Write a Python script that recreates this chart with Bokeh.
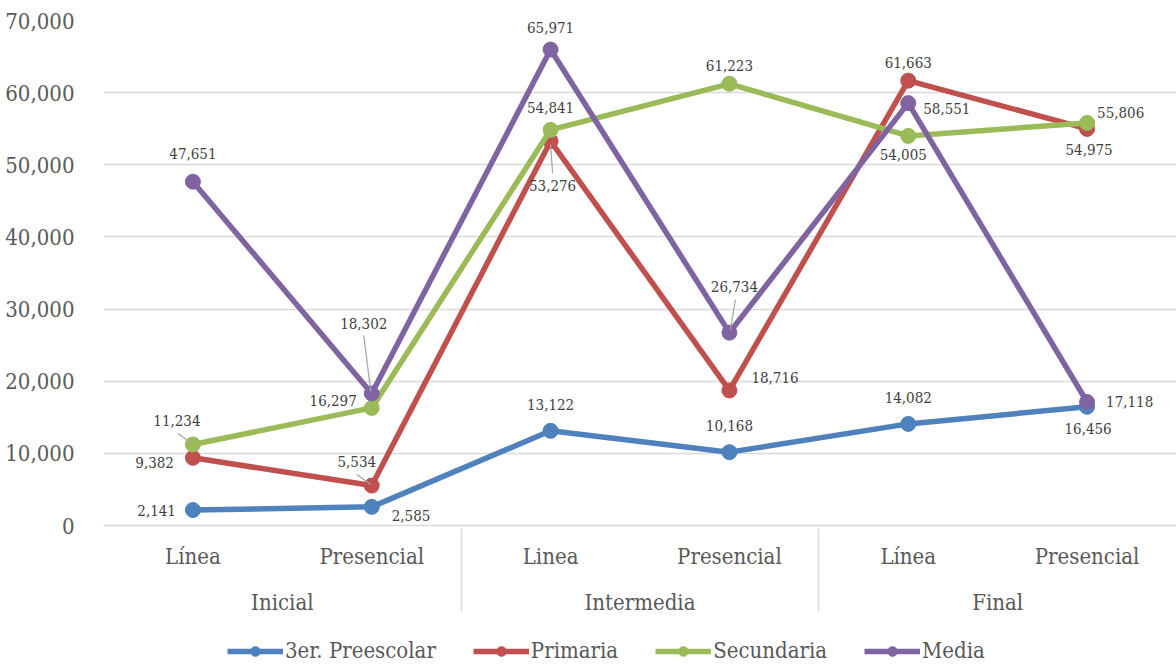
from bokeh.plotting import figure
from bokeh.layouts import column
from bokeh.models import (FactorRange, Range1d, ColumnDataSource, Legend, LegendItem,
                          NumeralTickFormatter, FixedTicker)
from bokeh.core.properties import value
from bokeh.embed import file_html
from bokeh.resources import INLINE

# ---------------- data ----------------
groups = ["Inicial", "Intermedia", "Final"]
modes = [["Línea", "Presencial"], ["Linea", "Presencial"], ["Línea", "Presencial"]]
series_names = ["3er. Preescolar", "Primaria", "Secundaria", "Media"]
preescolar = [2141, 2585, 13122, 10168, 14082, 16456]
primaria = [9382, 5534, 53276, 18716, 61663, 54975]
secundaria = [11234, 16297, 54841, 61223, 54005, 55806]
media = [47651, 18302, 65971, 26734, 58551, 17118]
y_ticks = [0, 10000, 20000, 30000, 40000, 50000, 60000, 70000]

# ---------------- styles ----------------
colors = ["#4F81BD", "#C0504D", "#9BBB59", "#8064A2"]
FONT = "'DejaVu Serif Condensed', 'DejaVu Serif', serif"
GRAY = "#595959"
GRID = "#D9D9D9"

# label placement in screen pixels: (dx, dy, align)  dy>0 = downward
placements = [
    [(-17, 0, "right"), (20, 9, "left"), (0, -26, "center"), (0, -27, "center"), (0, -26, "center"), (1, 22, "center")],
    [(-19, 5, "right"), (-15, -24, "center"), (2, 44, "center"), (22, -13, "left"), (0, -18, "center"), (2, 21, "center")],
    [(-16, -24, "center"), (-15, -7, "right"), (0, -22, "center"), (0, -18, "center"), (-5, 19, "center"), (10, -10, "left")],
    [(0, -28, "center"), (-8, -70, "center"), (0, -22, "center"), (5, -46, "center"), (15, 5, "left"), (19, -1, "left")],
]
# leader lines: (series index, point index, (dx0, dy0), (dx1, dy1)) in pixels from point
leaders = [
    (2, 0, (-15, -11), (-1, -1)),
    (1, 1, (-15, -11), (-1, -1)),
    (3, 1, (-8, -58), (-1, -2)),
    (1, 2, (0, 3), (2, 32)),
    (3, 3, (6, -33), (1, -3)),
]

factors = [(g, m) for g, ms in zip(groups, modes) for m in ms]
values = [preescolar, primaria, secundaria, media]

FW, FH = 1073, 505
p = figure(x_range=FactorRange(*factors, group_padding=0, factor_padding=0, subgroup_padding=0,
                               range_padding=0),
           y_range=Range1d(0, 70000),
           frame_width=FW, frame_height=FH, output_backend="svg", toolbar_location=None,
           min_border_left=103, min_border_right=0, min_border_top=20, min_border_bottom=0)
p.outline_line_color = None
p.background_fill_color = "white"
p.border_fill_color = "white"

# axes
p.xgrid.grid_line_color = None
p.ygrid.grid_line_color = GRID
p.ygrid.grid_line_width = 1.5
yax = p.yaxis[0]
yax.ticker = FixedTicker(ticks=y_ticks)
yax.formatter = NumeralTickFormatter(format="0,0")
yax.axis_line_color = None
yax.major_tick_line_color = None
yax.minor_tick_line_color = None
yax.major_label_text_font = FONT
yax.major_label_text_font_size = "22px"
yax.major_label_text_color = GRAY
yax.major_label_standoff = 23

xax = p.xaxis[0]
xax.axis_label = None
xax.axis_line_color = GRID
xax.axis_line_width = 1.5
xax.major_tick_line_color = None
xax.minor_tick_line_color = None
xax.major_tick_out = 0
xax.major_label_text_font = FONT
xax.major_label_text_font_size = "22px"
xax.major_label_text_color = GRAY
xax.major_label_text_line_height = 1.6
xax.major_label_standoff = 18
xax.group_text_font = FONT
xax.group_text_font_size = "22px"
xax.group_text_color = GRAY
xax.group_text_font_style = "normal"
xax.separator_line_color = GRID
xax.separator_line_width = 1.5

# pixel -> data unit conversions
px_x = len(factors) / FW
px_y = 70000 / FH

for name, vals, col in zip(series_names, values, colors):
    src = ColumnDataSource(dict(x=factors, y=vals))
    p.line("x", "y", source=src, line_color=col, line_width=5.5, line_join="round")
    p.scatter("x", "y", source=src, size=15, fill_color=col, line_color=col)

# leader lines
lx0, ly0, lx1, ly1 = [], [], [], []
for si, pi, (a, b), (c, d) in leaders:
    g, m = factors[pi]
    yv = values[si][pi]
    lx0.append((g, m, a * px_x))
    ly0.append(yv - b * px_y)
    lx1.append((g, m, c * px_x))
    ly1.append(yv - d * px_y)
p.segment(x0=lx0, y0=ly0, x1=lx1, y1=ly1, line_color="#A6A6A6", line_width=1.2)

# data labels
for vals, pl in zip(values, placements):
    for align in ("left", "right", "center"):
        xs, ys, txt, xo, yo = [], [], [], [], []
        for i, v in enumerate(vals):
            dx, dy, al = pl[i]
            if al != align:
                continue
            xs.append(factors[i]); ys.append(v); txt.append(f"{v:,}")
            xo.append(dx); yo.append(dy)
        if not xs:
            continue
        src = ColumnDataSource(dict(x=xs, y=ys, t=txt, xo=xo, yo=yo))
        p.text("x", "y", text="t", source=src, x_offset="xo", y_offset="yo",
               text_align=align, text_baseline="middle",
               text_font=value(FONT), text_font_size=value("15px"), text_color="#404040")

# legend in its own strip below the chart (legend renderers sit outside the strip's ranges)
lf = figure(width=1176, height=46, output_backend="svg", toolbar_location=None,
            x_axis_type=None, y_axis_type=None, min_border=0,
            x_range=Range1d(0, 1), y_range=Range1d(0, 1))
lf.outline_line_color = None
lf.xgrid.grid_line_color = None
lf.ygrid.grid_line_color = None
items = []
for name, col in zip(series_names, colors):
    esrc = ColumnDataSource(dict(x=[-10.0], y=[-10.0]))
    r1 = lf.line("x", "y", source=esrc, line_color=col, line_width=5.5)
    r2 = lf.scatter("x", "y", source=esrc, size=14, fill_color=col, line_color=col)
    items.append(LegendItem(label=name, renderers=[r1, r2]))
legend = Legend(items=items, orientation="horizontal", location=(124, 0),
                label_text_font=FONT, label_text_font_size="22px", label_text_color=GRAY,
                glyph_width=56, glyph_height=24, label_standoff=2, spacing=37,
                border_line_color=None, background_fill_alpha=0, padding=2, margin=0)
lf.add_layout(legend, "center")

layout = column(p, lf, spacing=0)
open("out.html", "w").write(file_html(layout, INLINE))
